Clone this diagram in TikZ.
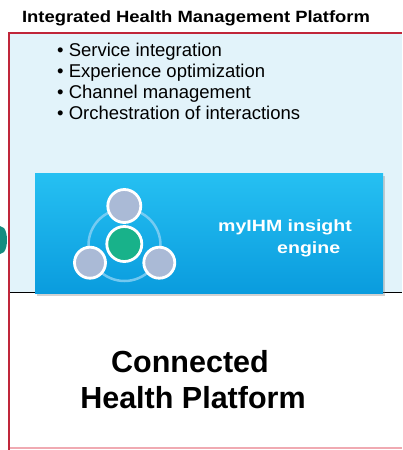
\documentclass[tikz,border=0pt]{standalone}
\usepackage{fontspec}
\setmainfont{Liberation Sans}
\newfontfamily\titlefont[FakeStretch=1.13]{Liberation Sans}
\newfontfamily\enginefont[FakeStretch=1.2]{Liberation Sans}
\usetikzlibrary{shadows}
\definecolor{framered}{RGB}{192,38,58}
\definecolor{lightpink}{RGB}{240,170,178}
\definecolor{paleblue}{RGB}{226,243,250}
\definecolor{boxtop}{RGB}{38,192,242}
\definecolor{boxbot}{RGB}{10,156,222}
\definecolor{bubble}{RGB}{170,186,214}
\definecolor{greenc}{RGB}{24,178,138}
\definecolor{tealarrow}{RGB}{20,140,128}
\definecolor{ringblue}{RGB}{140,210,245}
\begin{document}
\begin{tikzpicture}[x=1pt,y=-1pt,
  bullet/.style={anchor=base west,inner sep=0pt,font=\fontsize{18.5}{20}\selectfont},
  bubblec/.style={circle,draw=white,line width=2.8pt,fill=bubble,minimum size=33pt,inner sep=0pt},
  engbox/.style={draw=none,top color=boxtop,bottom color=boxbot,
    drop shadow={shadow xshift=2pt,shadow yshift=-3pt,opacity=0.35}}]
\useasboundingbox (0,0) rectangle (402,450);
\fill[white] (0,0) rectangle (402,450);
% pale blue upper region
\fill[paleblue] (10,34) rectangle (402,292.7);
% black divider line
\draw[line width=1.5pt,black] (10,292.7) -- (402,292.7);
% frame
\draw[lightpink,line width=1.5pt] (9,448) -- (402,448);
\draw[framered,line width=2pt] (9,450) -- (9,33) -- (402,33);
% teal arrow tip at left
\fill[tealarrow] (0,226) -- (4,228) .. controls (8,233) and (8,247) .. (4,252) -- (0,254) -- cycle;
% title
\node[anchor=base,inner sep=0pt,font=\titlefont\bfseries\fontsize{16.3}{18}\selectfont] (title) at (196,22.7) {Integrated Health Management Platform};
% bullets
\node[bullet] (b1) at (57,56.7) {\textbullet\ Service integration};
\node[bullet] (b2) at (57,77.5) {\textbullet\ Experience optimization};
\node[bullet] (b3) at (57,98.3) {\textbullet\ Channel management};
\node[bullet] (b4) at (57,119.2) {\textbullet\ Orchestration of interactions};
% engine box
\path[engbox] (35,173) rectangle (383,293);
\node[draw=none,minimum width=348pt,minimum height=120pt,inner sep=0pt] (engine) at (209,233) {};
% icon
\draw[ringblue,line width=2.5pt,opacity=0.8] (124.5,245) circle (36pt);
\node[bubblec] (top) at (124.3,206) {};
\node[bubblec,minimum size=31pt] (bl) at (90,262.7) {};
\node[bubblec,minimum size=31pt] (br) at (159.3,262.7) {};
\node[bubblec,fill=greenc,minimum size=35pt] (mid) at (124.3,244) {};
% engine text
\node[anchor=base west,inner sep=0pt,text=white,font=\enginefont\bfseries\fontsize{16.3}{18}\selectfont] (eng1) at (218,231.7) {myIHM insight};
\node[anchor=base west,inner sep=0pt,text=white,font=\enginefont\bfseries\fontsize{16.3}{18}\selectfont] (eng2) at (277,253.3) {engine};
% connected health platform
\node[anchor=base,inner sep=0pt,font=\bfseries\fontsize{30.5}{34}\selectfont] (c1) at (190,372.7) {Connected};
\node[anchor=base,inner sep=0pt,font=\bfseries\fontsize{30.5}{34}\selectfont] (c2) at (193,408.3) {Health Platform};
\end{tikzpicture}
\end{document}
